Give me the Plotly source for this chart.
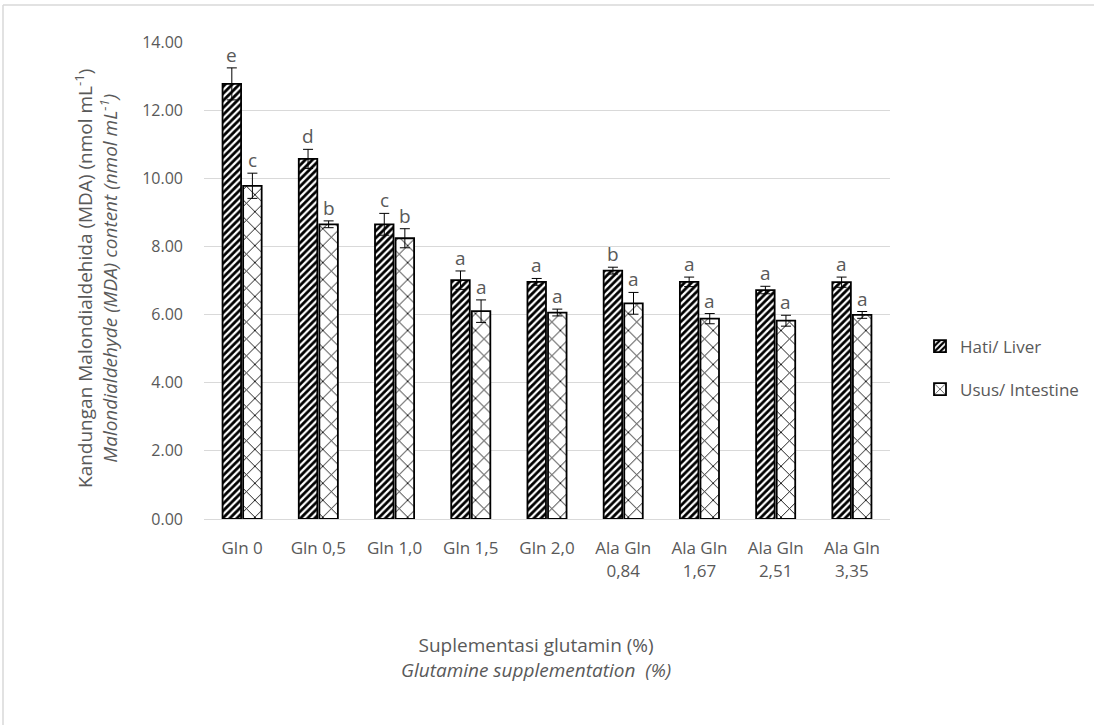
import plotly.graph_objects as go

# Treatment groups (x categories)
categories = ["Gln 0", "Gln 0,5", "Gln 1,0", "Gln 1,5", "Gln 2,0",
              "Ala Gln<br>0,84", "Ala Gln<br>1,67", "Ala Gln<br>2,51", "Ala Gln<br>3,35"]

# MDA content, liver (Hati)
liver_mean = [12.77, 10.57, 8.65, 7.01, 6.96, 7.29, 6.96, 6.72, 6.95]
liver_err = [0.47, 0.28, 0.32, 0.27, 0.10, 0.10, 0.14, 0.11, 0.15]
liver_letters = ["e", "d", "c", "a", "a", "b", "a", "a", "a"]

# MDA content, intestine (Usus)
gut_mean = [9.78, 8.65, 8.24, 6.10, 6.06, 6.33, 5.88, 5.82, 5.99]
gut_err = [0.37, 0.10, 0.28, 0.33, 0.10, 0.32, 0.15, 0.16, 0.10]
gut_letters = ["c", "b", "b", "a", "a", "a", "a", "a", "a"]

y_ticks = [0, 2, 4, 6, 8, 10, 12, 14]

TXT = "#595959"
FONT = "Open Sans"

W, H = 1094, 725
ML, MR, MT, MB = 204, 204, 42, 206
PW = W - ML - MR
PH = H - MT - MB


def px_x(p):
    return (p - ML) / PW


def px_y(p):
    return (H - MB - p) / PH


fig = go.Figure()

fig.add_trace(go.Bar(
    name="Hati/ Liver", x=categories, y=liver_mean,
    legendgroup="liver",
    marker=dict(color="white", line=dict(color="black", width=1.8),
                pattern=dict(shape="/", fgcolor="black", bgcolor="white",
                             fgopacity=1, size=5, solidity=0.55)),
    error_y=dict(type="data", array=liver_err, visible=True,
                 color="black", thickness=1, width=5),
))
fig.add_trace(go.Bar(
    name="Usus/ Intestine", x=categories, y=gut_mean,
    legendgroup="gut",
    marker=dict(color="white", line=dict(color="black", width=1.8),
                pattern=dict(shape="x", fgcolor="black", bgcolor="white",
                             fgopacity=1, size=12, solidity=0.14)),
    error_y=dict(type="data", array=gut_err, visible=True,
                 color="black", thickness=1, width=5),
))

# Significance letters above each error bar
half = PW / len(categories) * (1 - 0.46) / 4
annotations = []
for cat, m, e, t in zip(categories, liver_mean, liver_err, liver_letters):
    annotations.append(dict(x=cat, y=m + e, text=t, showarrow=False,
                            xshift=-half, yanchor="bottom", yshift=-2,
                            font=dict(family=FONT, size=19, color=TXT)))
for cat, m, e, t in zip(categories, gut_mean, gut_err, gut_letters):
    annotations.append(dict(x=cat, y=m + e, text=t, showarrow=False,
                            xshift=half, yanchor="bottom", yshift=-2,
                            font=dict(family=FONT, size=19, color=TXT)))

# Axis titles
annotations.append(dict(
    xref="paper", yref="paper", x=px_x(96), y=px_y(278),
    text="Kandungan Malondialdehida (MDA) (nmol mL<sup>-1</sup>)<br>"
         "<i>Malondialdehyde (MDA) content (nmol mL<sup>-1</sup>)</i>",
    textangle=-90, showarrow=False, xanchor="center", yanchor="middle",
    font=dict(family=FONT, size=19, color=TXT)))
annotations.append(dict(
    xref="paper", yref="paper", x=px_x(536), y=px_y(657),
    text="Suplementasi glutamin (%)<br><i>Glutamine supplementation  (%)</i>",
    showarrow=False, xanchor="center", yanchor="middle",
    font=dict(family=FONT, size=19, color=TXT)))

fig.update_layout(
    width=W, height=H,
    margin=dict(l=ML, r=MR, t=MT, b=MB, autoexpand=False),
    paper_bgcolor="white", plot_bgcolor="white",
    font=dict(family=FONT, color=TXT),
    barmode="group", bargap=0.46, bargroupgap=0.1,
    showlegend=True,
    legend=dict(x=px_x(920), y=px_y(368), xanchor="left", yanchor="middle",
                font=dict(family=FONT, size=17, color=TXT),
                tracegroupgap=18, bgcolor="rgba(0,0,0,0)"),
    annotations=annotations,
    shapes=[
        dict(type="line", xref="paper", yref="paper",
             x0=px_x(3), x1=px_x(1094), y0=px_y(5), y1=px_y(5),
             line=dict(color="#d9d9d9", width=1.5)),
        dict(type="line", xref="paper", yref="paper",
             x0=px_x(3), x1=px_x(3), y0=px_y(5), y1=px_y(725),
             line=dict(color="#d9d9d9", width=1.5)),
    ],
)

fig.update_yaxes(range=[0, 14], tickvals=y_ticks,
                 ticktext=[f"{v:.2f}" for v in y_ticks],
                 showgrid=True, gridcolor="#d9d9d9", gridwidth=1,
                 zeroline=False, showline=False, ticks="",
                 ticklabelstandoff=20,
                 tickfont=dict(family=FONT, size=16, color=TXT))
fig.update_xaxes(showline=True, linecolor="#d9d9d9", linewidth=1,
                 ticks="", showgrid=False, ticklabelstandoff=14,
                 tickangle=0,
                 tickfont=dict(family=FONT, size=17, color=TXT))

fig.write_html("out.html")
